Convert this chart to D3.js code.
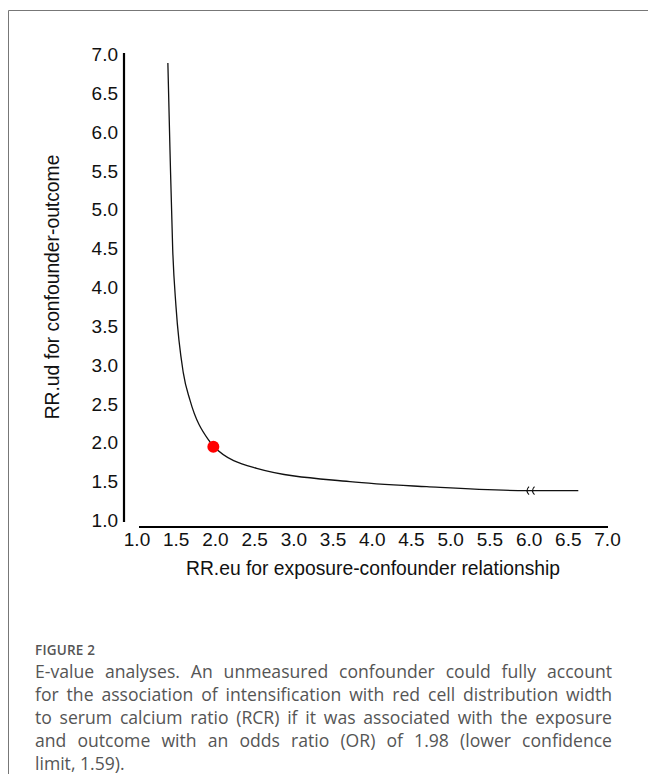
<!DOCTYPE html>
<html>
<head>
<meta charset="utf-8">
<script src="https://cdn.jsdelivr.net/npm/d3@7"></script>
<style>
  html, body { margin: 0; padding: 0; background: #fff; }
  #wrap { position: relative; width: 648px; height: 774px; overflow: hidden; }
  svg { position: absolute; left: 0; top: 0; }
  .axis text { font-family: "Liberation Sans", Arial, sans-serif; font-size: 19px; fill: #111; }
  #cap { position: absolute; left: 35px; top: 640px; width: 577px; font-family: "Open Sans", sans-serif; color: #555; }
  #cap .fig { font-size: 13.5px; font-weight: 600; letter-spacing: 0.2px; line-height: 20px; }
  #cap .ln { font-size: 17.6px; line-height: 23px; text-align: justify; text-align-last: justify; white-space: nowrap; }
  #cap .ln.last { text-align-last: left; }
</style>
</head>
<body>
<div id="wrap">
  <svg id="chart" width="648" height="774"></svg>
  <div id="cap">
    <div class="fig">FIGURE 2</div>
  </div>
</div>
<script>
// ---- data ----
const curveX = [1.40, 1.427, 1.462, 1.504, 1.597, 1.682, 1.916, 1.988, 2.533, 3.722, 4.701, 5.976, 6.634];
const curveY = [6.89, 5.77, 4.48, 3.75, 2.90, 2.55, 2.04, 1.95, 1.672, 1.50, 1.435, 1.384, 1.384];
const pointX = [1.98];
const pointY = [1.95];
const arrowX = [5.98, 6.05];
const arrowY = [1.384, 1.384];
const xTicks = [1.0, 1.5, 2.0, 2.5, 3.0, 3.5, 4.0, 4.5, 5.0, 5.5, 6.0, 6.5, 7.0];
const yTicks = [1.0, 1.5, 2.0, 2.5, 3.0, 3.5, 4.0, 4.5, 5.0, 5.5, 6.0, 6.5, 7.0];
const xLabel = "RR.eu for exposure-confounder relationship";
const yLabel = "RR.ud for confounder-outcome";
const captionLines = [
  "E-value analyses. An unmeasured confounder could fully account",
  "for the association of intensification with red cell distribution width",
  "to serum calcium ratio (RCR) if it was associated with the exposure",
  "and outcome with an odds ratio (OR) of 1.98 (lower confidence",
  "limit, 1.59)."
];

d3.select("#cap").selectAll("div.ln").data(captionLines).enter()
  .append("div").attr("class", (d, i) => i === captionLines.length - 1 ? "ln last" : "ln")
  .text(d => d);

const svg = d3.select("#chart");

// figure frame
svg.append("path")
  .attr("d", "M648,10.5 H8.5 V774")
  .attr("fill", "none").attr("stroke", "#777").attr("stroke-width", 1);

const x = d3.scaleLinear().domain([1, 7]).range([136.5, 607]);
const y = d3.scaleLinear().domain([1, 7]).range([520.5, 54.5]);

// y axis
const yAxisX = 124;
const gy = svg.append("g").attr("class", "axis")
  .attr("transform", `translate(${yAxisX},0)`)
  .call(d3.axisLeft(y).tickValues(yTicks).tickFormat(d3.format(".1f")).tickSize(0).tickPadding(6));
gy.select(".domain").remove();
gy.append("line").attr("x1", 0).attr("x2", 0).attr("y1", y(7) - 1.5).attr("y2", y(1) + 1.5)
  .attr("stroke", "#000").attr("stroke-width", 2.2);

// x axis
const xAxisY = 527;
const gx = svg.append("g").attr("class", "axis")
  .attr("transform", `translate(0,${xAxisY})`)
  .call(d3.axisBottom(x).tickValues(xTicks).tickFormat(d3.format(".1f")).tickSize(0).tickPadding(6));
gx.select(".domain").remove();
gx.append("line").attr("x1", x(1) + 2.5).attr("x2", x(7) + 1).attr("y1", 0).attr("y2", 0)
  .attr("stroke", "#000").attr("stroke-width", 2.2);

// axis titles
svg.append("text").attr("x", 373).attr("y", 575)
  .attr("text-anchor", "middle")
  .style("font-family", '"Liberation Sans", Arial, sans-serif').style("font-size", "19.3px").style("fill", "#111")
  .text(xLabel);
svg.append("text")
  .attr("transform", `translate(59,287) rotate(-90)`)
  .attr("text-anchor", "middle")
  .style("font-family", '"Liberation Sans", Arial, sans-serif').style("font-size", "19.3px").style("fill", "#111")
  .text(yLabel);

// curve
const pts = curveX.map((d, i) => [d, curveY[i]]);
const line = d3.line().x(d => x(d[0])).y(d => y(d[1])).curve(d3.curveMonotoneX);
svg.append("path").datum(pts).attr("d", line)
  .attr("fill", "none").attr("stroke", "#111").attr("stroke-width", 1.3);

// arrow marks "<<"
arrowX.forEach((ax, i) => {
  const cx = x(ax), cy = y(arrowY[i]);
  svg.append("path")
    .attr("d", `M${cx + 2},${cy - 4} Q${cx - 2},${cy} ${cx + 2},${cy + 4}`)
    .attr("fill", "none").attr("stroke", "#111").attr("stroke-width", 1.1);
});

// point
svg.selectAll("circle.pt").data(pointX.map((d, i) => [d, pointY[i]])).enter()
  .append("circle").attr("class", "pt")
  .attr("cx", d => x(d[0])).attr("cy", d => y(d[1])).attr("r", 6)
  .attr("fill", "#ff0000");
</script>
</body>
</html>
